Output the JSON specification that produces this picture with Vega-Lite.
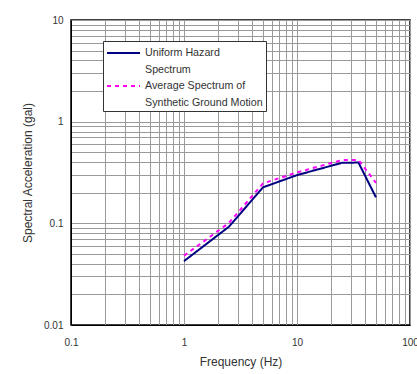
{
  "$schema": "https://vega.github.io/schema/vega-lite/v6.json",
  "width": 339,
  "height": 305,
  "autosize": "none",
  "padding": {"left": 71, "top": 20, "right": 7, "bottom": 49},
  "background": "white",
  "config": {
    "font": "Liberation Sans",
    "view": {"stroke": "black", "strokeWidth": 1.5}
  },
  "data": {
    "values": [
      {"f": 1, "sa": 0.0425, "series": "Uniform Hazard Spectrum"},
      {"f": 2.5, "sa": 0.0927, "series": "Uniform Hazard Spectrum"},
      {"f": 5, "sa": 0.226, "series": "Uniform Hazard Spectrum"},
      {"f": 10, "sa": 0.298, "series": "Uniform Hazard Spectrum"},
      {"f": 25, "sa": 0.394, "series": "Uniform Hazard Spectrum"},
      {"f": 35, "sa": 0.396, "series": "Uniform Hazard Spectrum"},
      {"f": 50, "sa": 0.18, "series": "Uniform Hazard Spectrum"},
      {"f": 1, "sa": 0.048, "series": "Average Spectrum of Synthetic Ground Motion"},
      {"f": 2.5, "sa": 0.101, "series": "Average Spectrum of Synthetic Ground Motion"},
      {"f": 5, "sa": 0.247, "series": "Average Spectrum of Synthetic Ground Motion"},
      {"f": 10, "sa": 0.317, "series": "Average Spectrum of Synthetic Ground Motion"},
      {"f": 25, "sa": 0.419, "series": "Average Spectrum of Synthetic Ground Motion"},
      {"f": 35, "sa": 0.42, "series": "Average Spectrum of Synthetic Ground Motion"},
      {"f": 50, "sa": 0.25, "series": "Average Spectrum of Synthetic Ground Motion"}
    ]
  },
  "mark": {"type": "line", "strokeWidth": 2, "clip": true},
  "encoding": {
    "x": {
      "field": "f", "type": "quantitative",
      "scale": {"type": "log", "domain": [0.1, 100], "nice": false},
      "axis": {
        "title": "Frequency (Hz)",
        "titleFont": "Liberation Sans", "titleFontSize": 12, "titleFontWeight": "normal", "titleColor": "#333",
        "titlePadding": 9,
        "values": [0.1,0.2,0.3,0.4,0.5,0.6,0.7,0.8,0.9,1,2,3,4,5,6,7,8,9,10,20,30,40,50,60,70,80,90,100],
        "labelExpr": "indexof([0.1,1,10,100], datum.value) >= 0 ? datum.label : ''",
        "format": "~g",
        "labelFontSize": 10, "labelColor": "#333", "labelPadding": 12,
        "labelFlush": false, "labelOverlap": false,
        "ticks": false, "domain": true, "domainColor": "black",
        "grid": true, "gridColor": "#9a9a9a", "gridWidth": 1
      }
    },
    "y": {
      "field": "sa", "type": "quantitative",
      "scale": {"type": "log", "domain": [0.01, 10], "nice": false},
      "axis": {
        "title": "Spectral Acceleration (gal)",
        "titleFont": "Liberation Sans", "titleFontSize": 12, "titleFontWeight": "normal", "titleColor": "#333",
        "titlePadding": 9,
        "values": [0.01,0.02,0.03,0.04,0.05,0.06,0.07,0.08,0.09,0.1,0.2,0.3,0.4,0.5,0.6,0.7,0.8,0.9,1,2,3,4,5,6,7,8,9,10],
        "labelExpr": "indexof([0.01,0.1,1,10], datum.value) >= 0 ? datum.label : ''",
        "format": "~g",
        "labelFontSize": 10, "labelColor": "#333", "labelPadding": 8,
        "labelFlush": false, "labelOverlap": false,
        "ticks": false, "domain": true, "domainColor": "black",
        "grid": true, "gridColor": "#9a9a9a", "gridWidth": 1
      }
    },
    "color": {
      "field": "series", "type": "nominal",
      "scale": {"domain": ["Uniform Hazard Spectrum", "Average Spectrum of Synthetic Ground Motion"], "range": ["#000080", "#ff00ff"]},
      "legend": {
        "title": null,
        "orient": "none",
        "legendX": 32,
        "legendY": 21,
        "fillColor": "white",
        "strokeColor": "#333",
        "padding": 3,
        "symbolType": "stroke",
        "symbolSize": 1089,
        "symbolStrokeWidth": 2,
        "labelFontSize": 10.7,
        "labelColor": "#333",
        "labelLimit": 200,
        "labelExpr": "datum.label == 'Uniform Hazard Spectrum' ? ['Uniform Hazard', 'Spectrum'] : ['Average Spectrum of', 'Synthetic Ground Motion']",
        "labelBaseline": "middle",
        "labelOffset": 4,
        "rowPadding": 2,
        "encode": {
          "labels": {"update": {"lineHeight": {"value": 17}, "y": {"value": 9}}},
          "symbols": {"update": {"y": {"value": 9}}}
        }
      }
    },
    "strokeDash": {
      "field": "series", "type": "nominal",
      "scale": {"domain": ["Uniform Hazard Spectrum", "Average Spectrum of Synthetic Ground Motion"], "range": [[1, 0], [4, 4]]}
    }
  }
}
